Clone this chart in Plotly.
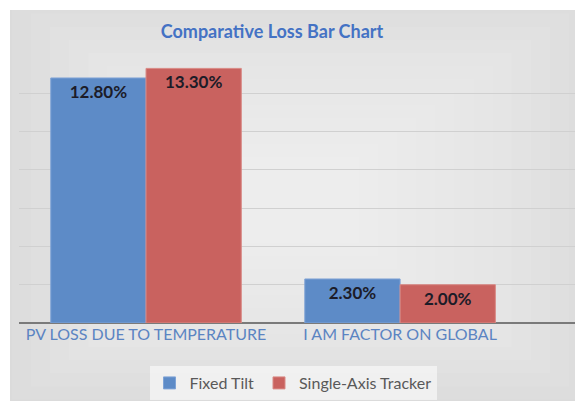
import plotly.graph_objects as go

categories = ["PV LOSS DUE TO TEMPERATURE", "I AM FACTOR ON GLOBAL"]
fixed_tilt = [12.8, 2.3]
single_axis = [13.3, 2.0]
series_names = ["Fixed Tilt", "Single-Axis Tracker"]
y_ticks = [0, 2, 4, 6, 8, 10, 12, 14]

# page has an 8px body margin, so the figure is drawn shifted by 8px
OFF = 8
W, H = 600 - OFF, 401 - OFF
L, T, B = 19 - OFF, 55 - OFF, 401 - 323
R = W - (583 - OFF)
pw, ph = W - L - R, H - T - B

def px_x(x):
    return (x - OFF - L) / pw

def px_y(y):
    return (H - B - (y - OFF)) / ph

FONT = "Lato, Open Sans, sans-serif"
BLUE = "#5d8bc7"
RED = "#c9625f"

fig = go.Figure()
fig.add_trace(go.Bar(
    x=categories, y=fixed_tilt, name=series_names[0],
    marker=dict(color=BLUE, line=dict(color="#7fa3d6", width=1)),
    texttemplate="%{y:.2f}%", textposition="inside", insidetextanchor="end",
    textfont=dict(family=FONT, size=17, color="#1c1c28", weight="bold"),
    textangle=0,
))
fig.add_trace(go.Bar(
    x=categories, y=single_axis, name=series_names[1],
    marker=dict(color=RED, line=dict(color="#d98a86", width=1)),
    texttemplate="%{y:.2f}%", textposition="inside", insidetextanchor="end",
    textfont=dict(family=FONT, size=17, color="#1c1c28", weight="bold"),
    textangle=0,
))

shapes = []
shapes.append(dict(type="rect", xref="paper", yref="paper",
                   x0=px_x(10), x1=px_x(620), y0=px_y(420), y1=px_y(10),
                   fillcolor="#d9d9d9", line=dict(width=0), layer="below"))
cx, cy = 300, 200
steps = 14
for i in range(1, steps + 1):
    f = 1 - i / (steps + 1)
    hw = (583 - 10) / 2 * f + 40
    hh = (401 - 10) / 2 * f + 30
    shapes.append(dict(type="rect", xref="paper", yref="paper",
                       x0=px_x(max(10, cx - hw)), x1=px_x(min(620, cx + hw)),
                       y0=px_y(min(420, cy + hh)), y1=px_y(max(10, cy - hh)),
                       fillcolor="rgba(255,255,255,0.07)", line=dict(width=0), layer="below"))
# axis baseline continues to the right edge
shapes.append(dict(type="line", xref="paper", yref="y", x0=1, x1=px_x(620), y0=0, y1=0,
                   line=dict(color="#7a7a7a", width=2), layer="below"))
for t in y_ticks[1:]:
    shapes.append(dict(type="line", xref="paper", yref="y", x0=1, x1=px_x(620), y0=t, y1=t,
                       line=dict(color="#d0d0d0", width=1), layer="below"))

fig.update_layout(
    width=W, height=H,
    margin=dict(l=L, r=R, t=T, b=B, autoexpand=False),
    paper_bgcolor="white",
    plot_bgcolor="rgba(0,0,0,0)",
    shapes=shapes,
    barmode="group",
    bargap=0.25,
    bargroupgap=0.0,
    title=dict(text="<b>Comparative Loss Bar Chart</b>", x=(272 - OFF) / W, xanchor="center",
               y=1 - (32 - OFF) / H, yanchor="middle",
               font=dict(family=FONT, size=18, color="#4472c4")),
    xaxis=dict(range=[-0.5, 1.72], showgrid=False, showline=False, ticks="",
               tickfont=dict(family=FONT, size=16, color="#5b84c2")),
    yaxis=dict(range=[0, 14], tickvals=y_ticks, showticklabels=False,
               showgrid=True, gridcolor="#d0d0d0", gridwidth=1,
               zeroline=True, zerolinecolor="#7a7a7a", zerolinewidth=2,
               showline=False),
    legend=dict(orientation="h", x=(293 - OFF) / W, xanchor="center", xref="container",
                y=1 - (366 - OFF) / H, yanchor="top", yref="container",
                bgcolor="rgba(246,246,246,0.75)",
                font=dict(family=FONT, size=16, color="#595959"),
                itemwidth=30, traceorder="normal",
                tracegroupgap=0),
    showlegend=True,
)

fig.write_html("out.html")
